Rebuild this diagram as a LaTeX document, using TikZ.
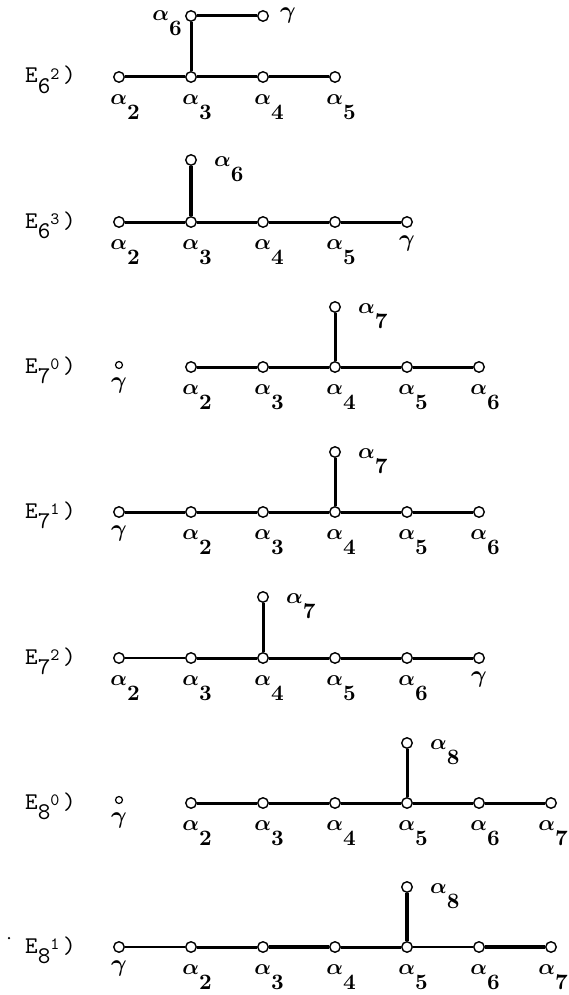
\documentclass[tikz,border=0pt]{standalone}
\usepackage{amsmath}
\usepackage{bm}
\usepackage{graphicx}
\usetikzlibrary{positioning}

\newcommand{\al}[1]{\scalebox{2.2}{$\bm{\alpha}$\raisebox{-0.68em}{\bfseries #1}}}
\newcommand{\rowname}[2]{\scalebox{2.4}{\ttfamily E\raisebox{-0.45em}{#1}\raisebox{0.13em}{\scalebox{0.72}{#2}}\hspace{0.15em})}}
\newcommand{\gam}{\scalebox{2.4}{\boldmath$\gamma$}}

\begin{document}
\begin{tikzpicture}[x=1pt, y=-1pt, >=stealth,
    vert/.style={circle, draw, fill=white, line width=1.4pt, inner sep=0pt, minimum size=10.5pt},
    spot/.style={circle, draw, line width=1.2pt, inner sep=0pt, minimum size=7pt},
    bond/.style={line width=3pt},
    thinbond/.style={line width=2.2pt},
    below lbl/.style={inner sep=0pt, xshift=6pt, yshift=-12pt},
    edge lbl/.style={inner sep=0pt, xshift=2pt, yshift=-12pt},
    right lbl/.style={inner sep=0pt, xshift=17pt, yshift=-9pt},
    left lbl/.style={inner sep=0pt, xshift=-3pt, yshift=-7pt},
    gamma sym/.style={inner sep=0pt},
    rowlbl/.style={inner sep=0pt, anchor=base west}]
    \useasboundingbox (0,0) rectangle (569,995);

    % E6 2)
    \node[rowlbl] (n62) at (25,83) {\rowname{6}{2}};
    \foreach \i/\x in {2/119,3/191,4/263,5/335}
        \node[vert, label={[below lbl]below:\al{\i}}] (p\i) at (\x,77) {};
    \node[vert, label={[left lbl]left:\al{6}}] (p6) at (191,16) {};
    \node[vert] (pg) at (263,16) {};
    \node[gamma sym, right=11pt of pg] (pgs) {\gam};
    \draw[bond] (p2) -- (p3) -- (p4) -- (p5);
    \draw[bond] (p3) -- (p6) -- (pg);

    % E6 3)
    \node[rowlbl] (n63) at (25,228) {\rowname{6}{3}};
    \foreach \i/\x in {2/119,3/191,4/263,5/335}
        \node[vert, label={[below lbl]below:\al{\i}}] (q\i) at (\x,222) {};
    \node[vert, label={[right lbl]right:\al{6}}] (q6) at (191,160) {};
    \node[vert] (qg) at (407,222) {};
    \node[gamma sym, below=8pt of qg] (qgs) {\gam};
    \draw[bond] (q2) -- (q3) -- (q4) -- (q5) -- (qg);
    \draw[line width=3.8pt] (q3) -- (q6);

    % E7 0)
    \node[rowlbl] (n70) at (25,373) {\rowname{7}{0}};
    \node[spot] (rg) at (119,365) {};
    \node[gamma sym, below=9pt of rg] (rgs) {\gam};
    \foreach \i/\x in {2/191,3/263,4/335,5/407,6/479}
        \node[vert, label={[below lbl]below:\al{\i}}] (r\i) at (\x,367) {};
    \node[vert, label={[right lbl]right:\al{7}}] (r7) at (335,307) {};
    \draw[bond] (r2) -- (r3) -- (r4) -- (r5) -- (r6);
    \draw[bond] (r4) -- (r7);

    % E7 1)
    \node[rowlbl] (n71) at (25,518) {\rowname{7}{1}};
    \node[vert] (sg) at (119,512) {};
    \node[gamma sym, below=8pt of sg] (sgs) {\gam};
    \foreach \i/\x in {2/191,3/263,4/335,5/407,6/479}
        \node[vert, label={[below lbl]below:\al{\i}}] (s\i) at (\x,512) {};
    \node[vert, label={[right lbl]right:\al{7}}] (s7) at (335,452) {};
    \draw[bond] (sg) -- (s2) -- (s3) -- (s4) -- (s5) -- (s6);
    \draw[bond] (s4) -- (s7);

    % E7 2)
    \node[rowlbl] (n72) at (25,664) {\rowname{7}{2}};
    \foreach \i/\x in {2/119,3/191,4/263,5/335,6/407}
        \node[vert, label={[below lbl]below:\al{\i}}] (t\i) at (\x,658) {};
    \node[vert] (tg) at (479,658) {};
    \node[gamma sym, below=8pt of tg] (tgs) {\gam};
    \node[vert, label={[right lbl]right:\al{7}}] (t7) at (263,597) {};
    \draw[thinbond] (t2) -- (t3);
    \draw[bond] (t3) -- (t4) -- (t5) -- (t6) -- (tg);
    \draw[bond] (t4) -- (t7);

    % E8 0)
    \node[rowlbl] (n80) at (25,809) {\rowname{8}{0}};
    \node[spot] (ug) at (119,800) {};
    \node[gamma sym, below=9pt of ug] (ugs) {\gam};
    \foreach \i/\x in {2/191,3/263,4/335,5/407,6/479}
        \node[vert, label={[below lbl]below:\al{\i}}] (u\i) at (\x,803) {};
    \node[vert, label={[edge lbl]below:\al{7}}] (u7) at (551,803) {};
    \node[vert, label={[right lbl]right:\al{8}}] (u8) at (407,743) {};
    \draw[bond] (u2) -- (u3) -- (u4) -- (u5) -- (u6) -- (u7);
    \draw[bond] (u5) -- (u8);

    % E8 1)
    \node[circle, fill, inner sep=0pt, minimum size=2.5pt] (speck) at (9,938) {};
    \node[rowlbl] (n81) at (25,953) {\rowname{8}{1}};
    \node[vert] (vg) at (119,947) {};
    \node[gamma sym, below=8pt of vg] (vgs) {\gam};
    \foreach \i/\x in {2/191,3/263,4/335,5/407,6/479}
        \node[vert, label={[below lbl]below:\al{\i}}] (v\i) at (\x,947) {};
    \node[vert, label={[edge lbl]below:\al{7}}] (v7) at (551,947) {};
    \node[vert, label={[right lbl]right:\al{8}}] (v8) at (407,887) {};
    \draw[thinbond] (vg) -- (v2);
    \draw[bond] (v2) -- (v3);
    \draw[line width=3.8pt] (v3) -- (v4);
    \draw[bond] (v4) -- (v5);
    \draw[thinbond] (v5) -- (v6);
    \draw[line width=3.5pt] (v6) -- (v7);
    \draw[line width=3.5pt] (v5) -- (v8);
\end{tikzpicture}
\end{document}
